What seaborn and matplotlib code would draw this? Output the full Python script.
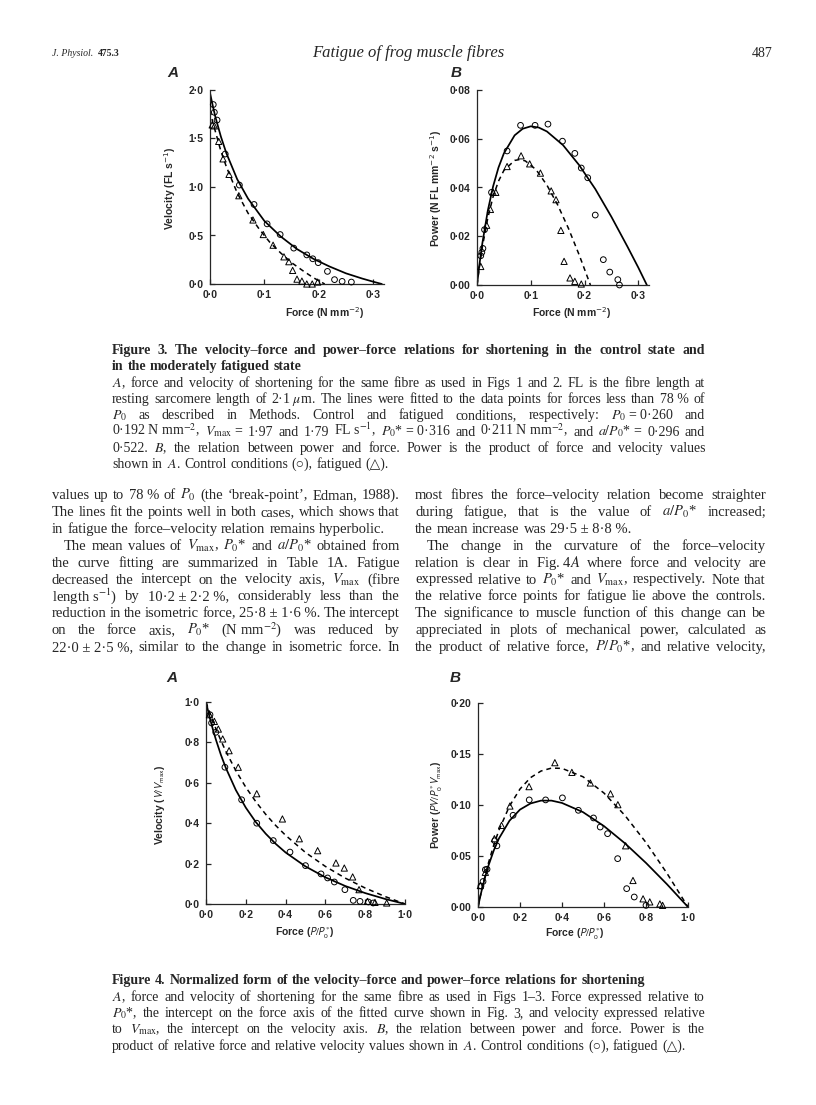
import matplotlib
matplotlib.use('Agg')
import matplotlib.pyplot as plt
import seaborn as sns
import pandas as pd

# ---- Fig 3A: velocity vs force (N mm-2) ----
f3a_ctrl_force = [0.006, 0.008, 0.013, 0.028, 0.054, 0.081, 0.105, 0.129, 0.154, 0.178,
                  0.189, 0.199, 0.216, 0.229, 0.243, 0.260]
f3a_ctrl_vel = [1.85, 1.77, 1.69, 1.34, 1.02, 0.82, 0.62, 0.51, 0.37, 0.30,
                0.26, 0.22, 0.13, 0.045, 0.027, 0.02]
f3a_fat_force = [0.004, 0.008, 0.016, 0.024, 0.035, 0.053, 0.079, 0.098, 0.116, 0.136,
                 0.145, 0.152, 0.160, 0.169, 0.178, 0.188, 0.198]
f3a_fat_vel = [1.64, 1.63, 1.47, 1.29, 1.13, 0.91, 0.66, 0.51, 0.40, 0.28,
               0.23, 0.14, 0.05, 0.03, 0.0, 0.0, 0.02]
f3a_fit_ctrl_x = [0.0, 0.005, 0.01, 0.02, 0.03, 0.05, 0.07, 0.10, 0.13, 0.16, 0.19, 0.22, 0.25, 0.28, 0.30, 0.316]
f3a_fit_ctrl_y = [1.97, 1.84, 1.72, 1.52, 1.35, 1.08, 0.88, 0.65, 0.49, 0.36, 0.26, 0.18, 0.11, 0.056, 0.024, 0.0]
f3a_fit_fat_x = [0.0, 0.005, 0.01, 0.02, 0.03, 0.05, 0.07, 0.09, 0.11, 0.13, 0.15, 0.17, 0.19, 0.211]
f3a_fit_fat_y = [1.79, 1.67, 1.57, 1.37, 1.21, 0.94, 0.73, 0.57, 0.43, 0.32, 0.22, 0.14, 0.065, 0.0]

# ---- Fig 3B: power vs force ----
f3b_ctrl_force = [0.007, 0.009, 0.011, 0.014, 0.027, 0.056, 0.081, 0.108, 0.132, 0.159,
                  0.182, 0.194, 0.206, 0.220, 0.235, 0.247, 0.262, 0.265]
f3b_ctrl_pow = [0.012, 0.0134, 0.015, 0.0227, 0.038, 0.055, 0.0655, 0.0655, 0.066, 0.059,
                0.054, 0.048, 0.044, 0.0287, 0.0104, 0.0053, 0.0022, 0.0]
f3b_fat_force = [0.007, 0.018, 0.025, 0.030, 0.035, 0.056, 0.082, 0.098, 0.118, 0.138,
                 0.147, 0.156, 0.162, 0.173, 0.182, 0.194]
f3b_fat_pow = [0.0076, 0.0245, 0.031, 0.038, 0.038, 0.0486, 0.053, 0.0497, 0.0459, 0.0386,
               0.035, 0.0224, 0.0097, 0.0029, 0.0015, 0.0004]
f3b_fit_ctrl_x = [0.0, 0.005, 0.01, 0.02, 0.03, 0.04, 0.05, 0.07, 0.085, 0.10, 0.115, 0.13,
                  0.16, 0.19, 0.22, 0.25, 0.28, 0.30, 0.316]
f3b_fit_ctrl_y = [0.0, 0.0092, 0.0172, 0.0304, 0.0405, 0.0482, 0.054, 0.0614, 0.0641, 0.0651,
                  0.0646, 0.063, 0.0574, 0.0492, 0.0394, 0.028, 0.0157, 0.0072, 0.0]
f3b_fit_fat_x = [0.0, 0.005, 0.01, 0.02, 0.03, 0.04, 0.05, 0.07, 0.08, 0.09, 0.11, 0.13,
                 0.15, 0.17, 0.19, 0.211]
f3b_fit_fat_y = [0.0, 0.0084, 0.0157, 0.0274, 0.0363, 0.0426, 0.047, 0.0511, 0.0515, 0.0509,
                 0.0473, 0.041, 0.0329, 0.0233, 0.0124, 0.0]

# ---- Fig 4A: normalised velocity vs normalised force ----
f4a_ctrl_force = [0.02, 0.028, 0.049, 0.095, 0.179, 0.255, 0.338, 0.422, 0.50, 0.578,
                  0.611, 0.645, 0.698, 0.74, 0.774, 0.816, 0.84]
f4a_ctrl_vel = [0.937, 0.896, 0.85, 0.677, 0.516, 0.40, 0.314, 0.257, 0.19, 0.149,
                0.129, 0.109, 0.071, 0.018, 0.013, 0.01, 0.005]
f4a_fat_force = [0.017, 0.042, 0.062, 0.084, 0.116, 0.162, 0.255, 0.384, 0.469, 0.561,
                 0.653, 0.695, 0.737, 0.769, 0.811, 0.849, 0.908]
f4a_fat_vel = [0.937, 0.904, 0.866, 0.817, 0.759, 0.677, 0.546, 0.421, 0.323, 0.264,
               0.203, 0.178, 0.134, 0.071, 0.013, 0.008, 0.005]
f4_fit_x = [0.0, 0.01, 0.02, 0.035, 0.05, 0.075, 0.1, 0.15, 0.2, 0.25, 0.3, 0.35, 0.4,
            0.5, 0.6, 0.7, 0.8, 0.9, 1.0]
f4a_fit_ctrl_y = [1.0, 0.958, 0.918, 0.863, 0.813, 0.738, 0.673, 0.564, 0.477, 0.406, 0.348,
                  0.298, 0.255, 0.186, 0.132, 0.089, 0.054, 0.025, 0.0]
f4a_fit_fat_y = [1.0, 0.971, 0.944, 0.904, 0.867, 0.809, 0.755, 0.66, 0.578, 0.507, 0.444,
                 0.389, 0.34, 0.255, 0.186, 0.128, 0.079, 0.037, 0.0]

# ---- Fig 4B: normalised power vs normalised force ----
f4b_ctrl_force = [0.014, 0.024, 0.035, 0.043, 0.08, 0.09, 0.167, 0.244, 0.322, 0.402,
                  0.478, 0.55, 0.582, 0.617, 0.665, 0.708, 0.744, 0.80]
f4b_ctrl_pow = [0.0206, 0.025, 0.0366, 0.037, 0.065, 0.06, 0.0899, 0.105, 0.105, 0.107,
                0.0948, 0.0873, 0.0784, 0.0719, 0.0474, 0.018, 0.0098, 0.0016]
f4b_fat_force = [0.011, 0.035, 0.078, 0.112, 0.152, 0.243, 0.366, 0.447, 0.535, 0.631,
                 0.666, 0.703, 0.738, 0.786, 0.818, 0.866, 0.879]
f4b_fat_pow = [0.021, 0.034, 0.067, 0.08, 0.099, 0.118, 0.1415, 0.132, 0.1216, 0.111,
               0.1003, 0.06, 0.026, 0.008, 0.005, 0.003, 0.0016]
f4b_fit_ctrl_y = [0.0, 0.0096, 0.0184, 0.0302, 0.0407, 0.0554, 0.0673, 0.0846, 0.0955, 0.1015,
                  0.1043, 0.1043, 0.102, 0.093, 0.0793, 0.0624, 0.0432, 0.0223, 0.0]
f4b_fit_fat_y = [0.0, 0.0097, 0.0189, 0.0316, 0.0434, 0.0607, 0.0755, 0.099, 0.1157, 0.1268,
                 0.1333, 0.1362, 0.1359, 0.1277, 0.1117, 0.0897, 0.0632, 0.033, 0.0]

# ---- page text ----
header_left = "J. Physiol."
header_vol = "475.3"
header_title = "Fatigue of frog muscle fibres"
header_page = "487"

fig3_head = ["Figure 3. The velocity–force and power–force relations for shortening in the control state and",
             "in the moderately fatigued state"]
fig3_body = ["$A$, force and velocity of shortening for the same fibre as used in Figs 1 and 2. FL is the fibre length at",
             "resting sarcomere length of 2·1\u00a0$\\mu$m. The lines were fitted to the data points for forces less than 78\u00a0% of",
             "$P_0$ as described in Methods. Control and fatigued conditions, respectively: $P_0$\u00a0=\u00a00·260 and",
             "0·192\u00a0N\u00a0mm$^{-2}$, $V_{\\mathrm{max}}$\u00a0= 1·97 and 1·79 FL\u00a0s$^{-1}$, $P_0$*\u00a0=\u00a00·316 and 0·211\u00a0N\u00a0mm$^{-2}$, and $a/P_0$*\u00a0= 0·296 and",
             "0·522. $B$, the relation between power and force. Power is the product of force and velocity values",
             "shown in $A$. Control conditions (○), fatigued (△)."]
fig4_head = ["Figure 4. Normalized form of the velocity–force and power–force relations for shortening"]
fig4_body = ["$A$, force and velocity of shortening for the same fibre as used in Figs 1–3. Force expressed relative to",
             "$P_0$*, the intercept on the force axis of the fitted curve shown in Fig. 3, and velocity expressed relative",
             "to $V_{\\mathrm{max}}$, the intercept on the velocity axis. $B$, the relation between power and force. Power is the",
             "product of relative force and relative velocity values shown in $A$. Control conditions (○), fatigued (△)."]
col_left = ["values up to 78\u00a0% of $P_0$ (the ‘break-point’, Edman, 1988).",
            "The lines fit the points well in both cases, which shows that",
            "in fatigue the force–velocity relation remains hyperbolic.",
            "The mean values of $V_{\\mathrm{max}}$, $P_0$* and $a/P_0$* obtained from",
            "the curve fitting are summarized in Table 1A. Fatigue",
            "decreased the intercept on the velocity axis, $V_{\\mathrm{max}}$ (fibre",
            "length\u00a0s$^{-1}$) by 10·2\u00a0±\u00a02·2\u00a0%, considerably less than the",
            "reduction in the isometric force, 25·8\u00a0±\u00a01·6\u00a0%. The intercept",
            "on the force axis, $P_0$* (N\u00a0mm$^{-2}$) was reduced by",
            "22·0\u00a0±\u00a02·5\u00a0%, similar to the change in isometric force. In"]
col_right = ["most fibres the force–velocity relation become straighter",
             "during fatigue, that is the value of $a/P_0$* increased;",
             "the mean increase was 29·5\u00a0±\u00a08·8\u00a0%.",
             "The change in the curvature of the force–velocity",
             "relation is clear in Fig.\u00a04$A$ where force and velocity are",
             "expressed relative to $P_0$* and $V_{\\mathrm{max}}$, respectively. Note that",
             "the relative force points for fatigue lie above the controls.",
             "The significance to muscle function of this change can be",
             "appreciated in plots of mechanical power, calculated as",
             "the product of relative force, $P/P_0$*, and relative velocity,"]

sns.set_style('ticks')
plt.rcParams['font.family'] = ['Liberation Sans', 'DejaVu Sans']
plt.rcParams['mathtext.fontset'] = 'stixsans'
SERIF = ['Liberation Serif', 'DejaVu Serif', 'DejaVu Sans']

W, H = 816, 1105
fig = plt.figure(figsize=(W / 100, H / 100), dpi=100)
fig.patch.set_facecolor('white')
renderer = fig.canvas.get_renderer()


def fx(px):
    return px / W


def fy(py):
    return 1 - py / H


def fmt(v, n):
    return f"{v:.{n}f}".replace('.', '·')


def panel(l, t, r, b, xlim, ylim, xticks, yticks, nx, ny,
          fit_c, fit_f, ctrl, fat):
    ax = fig.add_axes([fx(l), fy(b), (r - l) / W, (b - t) / H])
    sns.lineplot(x=fit_c[0], y=fit_c[1], ax=ax, color='black', linewidth=1.25,
                 estimator=None, sort=False)
    sns.lineplot(x=fit_f[0], y=fit_f[1], ax=ax, color='black', linewidth=1.1,
                 linestyle=(0, (3.2, 2.6)), estimator=None, sort=False)
    sns.scatterplot(x=ctrl[0], y=ctrl[1], ax=ax, marker='o', s=17, facecolor='none',
                    edgecolor='black', linewidth=0.7, clip_on=False, zorder=3)
    sns.scatterplot(x=fat[0], y=fat[1], ax=ax, marker='^', s=20, facecolor='none',
                    edgecolor='black', linewidth=0.7, clip_on=False, zorder=3)
    ax.set_xlim(*xlim)
    ax.set_ylim(*ylim)
    ax.set_xticks(xticks, labels=[fmt(v, nx) for v in xticks], fontweight='bold', fontsize=7.5)
    ax.set_yticks(yticks, labels=[fmt(v, ny) for v in yticks], fontweight='bold', fontsize=7.5)
    ax.tick_params(direction='in', length=3.5, width=0.9, pad=4.5)
    ax.spines[['top', 'right']].set_visible(False)
    for s in ['left', 'bottom']:
        ax.spines[s].set_linewidth(0.9)
    ax.set_xlabel('')
    ax.set_ylabel('')
    ax.set_facecolor('none')
    return ax


panel(210, 90, 384, 284, (0, 0.32), (0, 2.0), [0, 0.1, 0.2, 0.3], [0, 0.5, 1.0, 1.5, 2.0], 1, 1,
      (f3a_fit_ctrl_x, f3a_fit_ctrl_y), (f3a_fit_fat_x, f3a_fit_fat_y),
      (f3a_ctrl_force, f3a_ctrl_vel), (f3a_fat_force, f3a_fat_vel))
panel(477, 90, 649, 285, (0, 0.32), (0, 0.08), [0, 0.1, 0.2, 0.3], [0, 0.02, 0.04, 0.06, 0.08], 1, 2,
      (f3b_fit_ctrl_x, f3b_fit_ctrl_y), (f3b_fit_fat_x, f3b_fit_fat_y),
      (f3b_ctrl_force, f3b_ctrl_pow), (f3b_fat_force, f3b_fat_pow))
panel(206, 702, 405, 904, (0, 1.0), (0, 1.0), [0, 0.2, 0.4, 0.6, 0.8, 1.0], [0, 0.2, 0.4, 0.6, 0.8, 1.0], 1, 1,
      (f4_fit_x, f4a_fit_ctrl_y), (f4_fit_x, f4a_fit_fat_y),
      (f4a_ctrl_force, f4a_ctrl_vel), (f4a_fat_force, f4a_fat_vel))
panel(478, 703, 688, 907, (0, 1.0), (0, 0.2), [0, 0.2, 0.4, 0.6, 0.8, 1.0], [0, 0.05, 0.10, 0.15, 0.20], 1, 2,
      (f4_fit_x, f4b_fit_ctrl_y), (f4_fit_x, f4b_fit_fat_y),
      (f4b_ctrl_force, f4b_ctrl_pow), (f4b_fat_force, f4b_fat_pow))

# panel letters
for px, py, s in [(173, 73, 'A'), (456, 73, 'B'), (172, 678, 'A'), (455, 678, 'B')]:
    fig.text(fx(px), fy(py), s, fontsize=11, fontweight='bold', fontstyle='italic',
             ha='center', va='center')

# axis labels
lab = dict(fontsize=7.5, fontweight='bold', ha='center', va='center')
fig.text(fx(170), fy(188), 'Velocity (FL s$^{-1}$)', rotation=90, math_fontfamily='dejavusans', **lab)
fig.text(fx(325), fy(313), 'Force (N mm$^{-2}$)', math_fontfamily='dejavusans', **lab)
fig.text(fx(436), fy(188), 'Power (N FL mm$^{-2}$ s$^{-1}$)', rotation=90, math_fontfamily='dejavusans', **lab)
fig.text(fx(572), fy(313), 'Force (N mm$^{-2}$)', math_fontfamily='dejavusans', **lab)
fig.text(fx(160), fy(805), 'Velocity ($V/V_{\\mathrm{max}}$)', rotation=90, math_fontfamily='stixsans', **lab)
fig.text(fx(305), fy(933), 'Force ($P/P_0^{*}$)', math_fontfamily='stixsans', **lab)
fig.text(fx(437), fy(805), 'Power ($PV/P_0^{*}V_{\\mathrm{max}}$)', rotation=90, math_fontfamily='stixsans', **lab)
fig.text(fx(575), fy(934), 'Force ($P/P_0^{*}$)', math_fontfamily='stixsans', **lab)


def text_block(lines, x0, x1, y0, dy, size, weight='normal', free=(), indent=None):
    indent = indent or {}
    rows = []
    for s in lines:
        rows.append([fig.text(0, 0, w, fontsize=size, fontweight=weight, family=SERIF,
                              math_fontfamily='stix', va='baseline', ha='left')
                     for w in s.split(' ')])

    def widths(ts):
        return [t.get_window_extent(renderer).width for t in ts]

    while True:
        fits = True
        for i, ts in enumerate(rows):
            need = sum(widths(ts)) + (len(ts) - 1) * size * 0.2 * 100 / 72 + indent.get(i, 0)
            if need > x1 - x0:
                fits = False
                break
        if fits:
            break
        size -= 0.2
        for ts in rows:
            for t in ts:
                t.set_fontsize(size)
    space = size * 0.27 * 100 / 72
    for i, ts in enumerate(rows):
        ws = widths(ts)
        start = x0 + indent.get(i, 0)
        if i in free or len(ts) == 1:
            gap = space
        else:
            gap = (x1 - start - sum(ws)) / (len(ts) - 1)
        x = start
        for t, w in zip(ts, ws):
            t.set_position((fx(x), fy(y0 + i * dy)))
            x += w + gap


# header
t1 = fig.text(fx(52), fy(56), header_left, fontsize=7, fontstyle='italic', family=SERIF, va='baseline')
w1 = t1.get_window_extent(renderer).width
fig.text(fx(52 + w1 + 5), fy(56), header_vol, fontsize=7, fontweight='bold', family=SERIF, va='baseline')
fig.text(fx(408), fy(57), header_title, fontsize=12, fontstyle='italic', family=SERIF, ha='center', va='baseline')
fig.text(fx(772), fy(57), header_page, fontsize=10, family=SERIF, ha='right', va='baseline')

# captions
text_block(fig3_head, 112, 705, 354, 16.3, 10, weight='bold', free=(1,))
text_block(fig3_body, 112, 705, 387, 16.2, 10, free=(5,))
text_block(fig4_head, 112, 705, 984, 16.3, 10, weight='bold', free=(0,))
text_block(fig4_body, 112, 705, 1001, 16.2, 10, free=(3,))

# body columns
text_block(col_left, 52, 400, 499, 16.9, 10.5, free=(2,), indent={3: 12})
text_block(col_right, 415, 766, 499, 16.9, 10.5, free=(2,), indent={3: 12})

fig.savefig('out.png', dpi=100, facecolor='white')
